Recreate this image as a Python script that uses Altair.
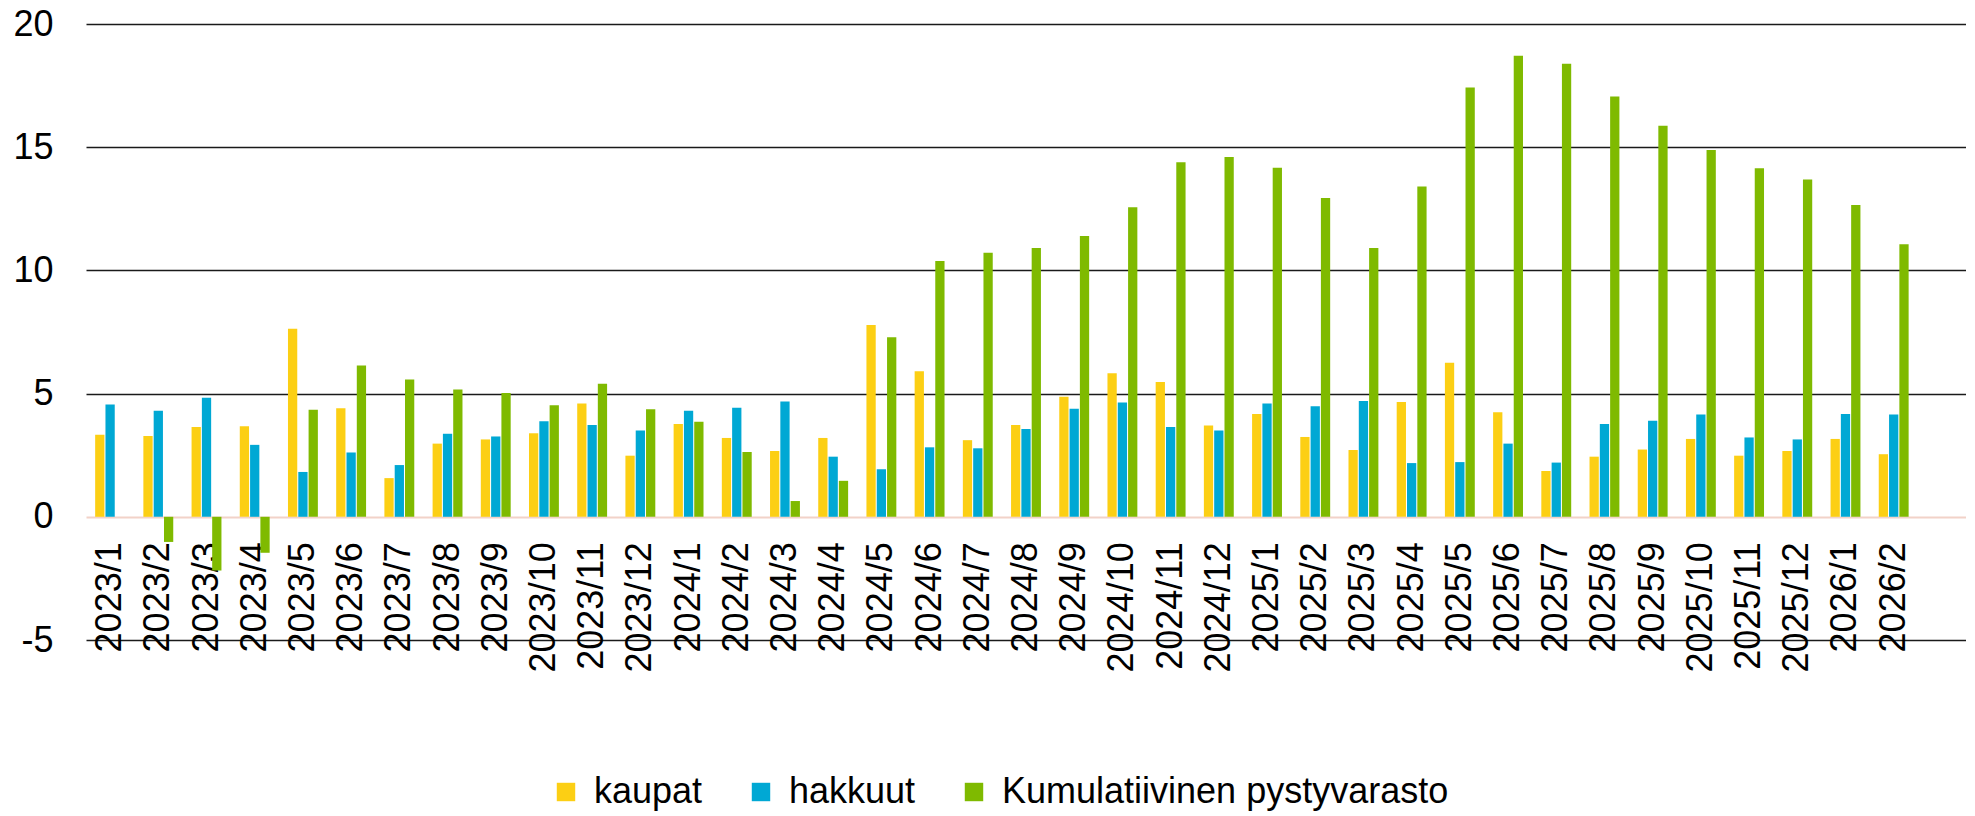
import altair as alt
import pandas as pd

months = [
    "2023/1", "2023/2", "2023/3", "2023/4", "2023/5", "2023/6", "2023/7", "2023/8",
    "2023/9", "2023/10", "2023/11", "2023/12",
    "2024/1", "2024/2", "2024/3", "2024/4", "2024/5", "2024/6", "2024/7", "2024/8",
    "2024/9", "2024/10", "2024/11", "2024/12",
    "2025/1", "2025/2", "2025/3", "2025/4", "2025/5", "2025/6", "2025/7", "2025/8",
    "2025/9", "2025/10", "2025/11", "2025/12",
    "2026/1", "2026/2",
]

kaupat = [
    3.33, 3.28, 3.64, 3.67, 7.63, 4.41, 1.57, 2.97, 3.14, 3.39, 4.60, 2.48,
    3.77, 3.20, 2.67, 3.20, 7.78, 5.91, 3.11, 3.73, 4.87, 5.83, 5.47, 3.71,
    4.17, 3.24, 2.71, 4.66, 6.25, 4.24, 1.86, 2.44, 2.73, 3.16, 2.48, 2.67,
    3.16, 2.54,
]

hakkuut = [
    4.56, 4.30, 4.83, 2.92, 1.82, 2.61, 2.10, 3.37, 3.26, 3.88, 3.73, 3.50,
    4.30, 4.43, 4.68, 2.44, 1.93, 2.82, 2.78, 3.56, 4.39, 4.64, 3.64, 3.50,
    4.60, 4.49, 4.70, 2.18, 2.22, 2.97, 2.20, 3.77, 3.90, 4.15, 3.22, 3.14,
    4.17, 4.15,
]

kumulatiivinen = [
    None, -1.02, -2.18, -1.46, 4.34, 6.14, 5.57, 5.17, 5.02, 4.53, 5.40, 4.36,
    3.86, 2.63, 0.64, 1.46, 7.29, 10.38, 10.72, 10.91, 11.40, 12.56, 14.39, 14.60,
    14.17, 12.94, 10.91, 13.41, 17.42, 18.71, 18.39, 17.06, 15.87, 14.89, 14.15, 13.69,
    12.65, 11.06,
]

series_names = ["kaupat", "hakkuut", "Kumulatiivinen pystyvarasto"]
series_colors = ["#FCCF14", "#00A8D4", "#7FBA00"]
y_ticks = [-5, 0, 5, 10, 15, 20]

rows = []
for name, vals in zip(series_names, [kaupat, hakkuut, kumulatiivinen]):
    for m, v in zip(months, vals):
        if v is not None:
            rows.append({"kuukausi": m, "sarja": name, "arvo": v})
df = pd.DataFrame(rows)

FONT = "Liberation Sans"
W, H = 1880, 616

chart = (
    alt.Chart(df)
    .mark_bar()
    .encode(
        x=alt.X(
            "kuukausi:N",
            scale=alt.Scale(domain=months + [""], paddingInner=0.38, paddingOuter=0.19),
            axis=alt.Axis(
                title=None,
                labelAngle=270,
                labelAlign="right",
                labelBaseline="middle",
                labelFont=FONT,
                labelFontSize=36,
                labelColor="#000000",
                labelPadding=25,
                labelOverlap=False,
                ticks=False,
                tickSize=0,
                domain=False,
                grid=False,
                offset=-123.2,
            ),
        ),
        xOffset=alt.XOffset(
            "sarja:N",
            scale=alt.Scale(domain=series_names, paddingInner=0.1),
        ),
        y=alt.Y(
            "arvo:Q",
            scale=alt.Scale(domain=[-5, 20], nice=False, zero=False),
            axis=alt.Axis(
                title=None,
                values=y_ticks,
                labelExpr="'' + datum.value",
                labelFont=FONT,
                labelFontSize=36,
                labelColor="#000000",
                labelPadding=33,
                ticks=False,
                domain=False,
                grid=True,
                gridColor=alt.condition("datum.value === 0", alt.value("#F2D2C8"), alt.value("#1a1a1a")),
                gridWidth=alt.condition("datum.value === 0", alt.value(2.2), alt.value(1.6)),
            ),
        ),
        color=alt.Color(
            "sarja:N",
            scale=alt.Scale(domain=series_names, range=series_colors),
            legend=alt.Legend(
                title=None,
                orient="none",
                direction="horizontal",
                legendX=462,
                legendY=750,
                symbolType="square",
                symbolSize=340,
                symbolStrokeWidth=0,
                labelFont=FONT,
                labelFontSize=36,
                labelColor="#000000",
                labelOffset=10,
                labelLimit=800,
                columnPadding=40,
                padding=0,
            ),
        ),
    )
    .properties(
        width=W,
        height=H,
        padding={"left": 78, "top": 16, "right": 0, "bottom": 174},
        autosize=alt.AutoSizeParams(type="none"),
        background="#ffffff",
    )
    .configure_view(strokeWidth=0)
)

chart.save("out.html", embed_options={"renderer": "svg", "actions": False})
